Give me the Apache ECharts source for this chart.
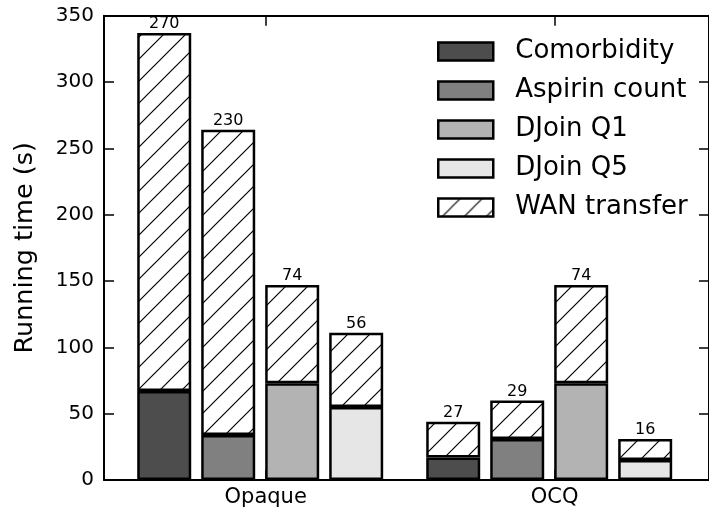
<!DOCTYPE html>
<html>
<head>
<meta charset="utf-8">
<script src="https://cdn.jsdelivr.net/npm/echarts@6/dist/echarts.min.js"></script>
<style>
  html, body { margin: 0; padding: 0; background: #fff; }
  #chart { width: 709px; height: 512px; }
</style>
</head>
<body>
<div id="chart"></div>
<script>
// Categories and query names
const groups = ['Opaque', 'OCQ'];
const queryNames = ['Comorbidity', 'Aspirin count', 'DJoin Q1', 'DJoin Q5'];
const wanName = 'WAN transfer';

// Compute time per query (s), one value per group
const comorbidity = [67, 17];
const aspirinCount = [34, 31];
const djoinQ1 = [73, 73];
const djoinQ5 = [55, 15];

// WAN transfer time per query (s), stacked on top
const wanComorbidity = [270, 27];
const wanAspirin = [230, 29];
const wanQ1 = [74, 74];
const wanQ5 = [56, 16];

// Y axis range
const yMin = 0;
const yMax = 350;
const yStep = 50;

const computeSets = [comorbidity, aspirinCount, djoinQ1, djoinQ5];
const wanSets = [wanComorbidity, wanAspirin, wanQ1, wanQ5];
const fills = ['#4d4d4d', '#808080', '#b3b3b3', '#e6e6e6'];

const FONT = 'DejaVu Sans';

// Diagonal "/" hatch tile
function makeHatch() {
  const s = 22;
  const c = document.createElement('canvas');
  c.width = s; c.height = s;
  const g = c.getContext('2d');
  g.fillStyle = '#ffffff';
  g.fillRect(0, 0, s, s);
  g.strokeStyle = '#000000';
  g.lineWidth = 1.2;
  g.beginPath();
  g.moveTo(0, s); g.lineTo(s, 0);
  g.moveTo(-3, 3); g.lineTo(3, -3);
  g.moveTo(s - 3, s + 3); g.lineTo(s + 3, s - 3);
  g.stroke();
  return c;
}
const hatch = { image: makeHatch(), repeat: 'repeat' };

const TOP = 15.7;
const HEIGHT = 464.3;
const frameLine = { show: true, onZero: false, lineStyle: { color: '#000', width: 2 } };

const series = [];
queryNames.forEach((q, i) => {
  const stackId = 'q' + i;
  series.push({
    name: q,
    type: 'bar',
    xAxisIndex: 4,
    yAxisIndex: 3,
    stack: stackId,
    barWidth: 54,
    barGap: '18.5%',
    data: computeSets[i],
    itemStyle: { color: fills[i], borderColor: '#000', borderWidth: 2.5 },
    emphasis: { disabled: true }
  });
  series.push({
    name: wanName,
    type: 'bar',
    xAxisIndex: 4,
    yAxisIndex: 3,
    stack: stackId,
    barWidth: 54,
    barGap: '18.5%',
    data: wanSets[i],
    itemStyle: { color: hatch, borderColor: '#000', borderWidth: 2.5 },
    label: {
      show: true,
      position: 'top',
      distance: 1,
      color: '#000',
      fontFamily: FONT,
      fontSize: 16,
      formatter: p => String(p.value)
    },
    emphasis: { disabled: true }
  });
});

const chart = echarts.init(document.getElementById('chart'), null, { renderer: 'canvas' });
chart.setOption({
  animation: false,
  backgroundColor: '#fff',
  grid: [
    // frame: spines and y ticks
    { left: 104, top: TOP, width: 610, height: HEIGHT },
    // category labels and x ticks
    { left: 121.2, top: TOP, width: 578, height: HEIGHT },
    // bars
    { left: 115.7, top: TOP, width: 578, height: HEIGHT }
  ],
  legend: {
    orient: 'vertical',
    left: 437,
    top: 38.5,
    padding: 0,
    itemWidth: 55,
    itemHeight: 18,
    itemGap: 13,
    icon: 'rect',
    selectedMode: false,
    itemStyle: { borderColor: '#000', borderWidth: 2.5 },
    data: queryNames.concat([wanName]),
    textStyle: { fontFamily: FONT, fontSize: 26, color: '#000', padding: [0, 0, 0, 17] }
  },
  xAxis: [
    { gridIndex: 0, type: 'value', min: 0, max: 1, position: 'bottom',
      axisLine: frameLine, axisTick: { show: false }, axisLabel: { show: false }, splitLine: { show: false } },
    { gridIndex: 0, type: 'value', min: 0, max: 1, position: 'top',
      axisLine: frameLine, axisTick: { show: false }, axisLabel: { show: false }, splitLine: { show: false } },
    { gridIndex: 1, type: 'category', data: groups, position: 'bottom',
      axisLine: { show: false },
      axisTick: { show: true, inside: true, length: 10, alignWithLabel: true, lineStyle: { color: '#000', width: 1.5 } },
      axisLabel: { show: true, margin: 7, fontFamily: FONT, fontSize: 21, color: '#000' } },
    { gridIndex: 1, type: 'category', data: groups, position: 'top',
      axisLine: { show: false },
      axisTick: { show: true, inside: true, length: 10, alignWithLabel: true, lineStyle: { color: '#000', width: 1.5 } },
      axisLabel: { show: false } },
    { gridIndex: 2, type: 'category', data: groups, show: false }
  ],
  yAxis: [
    { gridIndex: 0, type: 'value', min: yMin, max: yMax, interval: yStep, position: 'left',
      name: 'Running time (s)', nameLocation: 'middle', nameRotate: 90, nameGap: 66,
      nameTextStyle: { fontFamily: FONT, fontSize: 25.5, color: '#000' },
      axisLine: frameLine,
      axisTick: { show: true, inside: true, length: 10, lineStyle: { color: '#000', width: 1.5 } },
      axisLabel: { margin: 10, fontFamily: FONT, fontSize: 20, color: '#000' },
      splitLine: { show: false } },
    { gridIndex: 0, type: 'value', min: yMin, max: yMax, interval: yStep, position: 'right',
      axisLine: frameLine,
      axisTick: { show: true, inside: true, length: 10, lineStyle: { color: '#000', width: 1.5 } },
      axisLabel: { show: false }, splitLine: { show: false } },
    { gridIndex: 1, type: 'value', min: yMin, max: yMax, show: false },
    { gridIndex: 2, type: 'value', min: yMin, max: yMax, show: false }
  ],
  series: series
});
</script>
</body>
</html>
